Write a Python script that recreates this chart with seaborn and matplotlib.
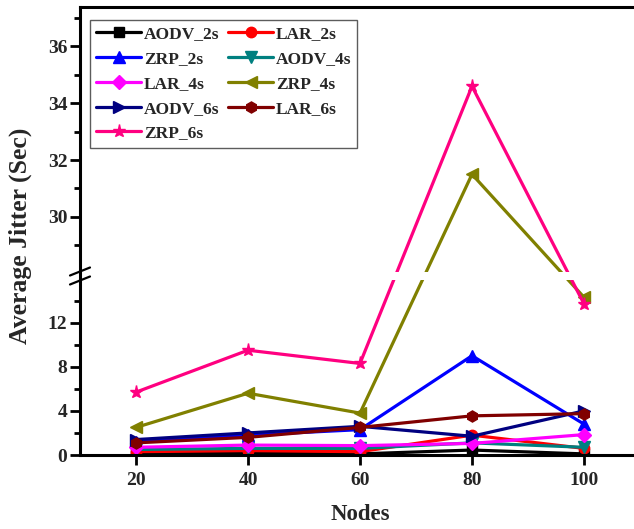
import matplotlib
matplotlib.use("Agg")
import matplotlib.pyplot as plt
from matplotlib.lines import Line2D
import numpy as np
import seaborn as sns
import pandas as pd

nodes = [20, 40, 60, 80, 100]

aodv_2s = [0.1, 0.2, 0.1, 0.45, 0.1]
lar_2s = [0.3, 0.4, 0.3, 1.8, 0.6]
zrp_2s = [1.2, 1.8, 2.3, 9.0, 2.8]
aodv_4s = [0.5, 0.6, 0.6, 1.1, 0.7]
lar_4s = [0.7, 0.9, 0.85, 1.05, 1.85]
zrp_4s = [2.5, 5.6, 3.8, 31.5, 14.3]
aodv_6s = [1.4, 2.0, 2.6, 1.7, 4.0]
lar_6s = [1.1, 1.6, 2.5, 3.55, 3.75]
zrp_6s = [5.7, 9.5, 8.3, 34.6, 13.7]

series_names = ["AODV_2s", "LAR_2s", "ZRP_2s", "AODV_4s", "LAR_4s",
                "ZRP_4s", "AODV_6s", "LAR_6s", "ZRP_6s"]
series_values = [aodv_2s, lar_2s, zrp_2s, aodv_4s, lar_4s,
                 zrp_4s, aodv_6s, lar_6s, zrp_6s]
colors = ["#000000", "#FF0000", "#0000FF", "#008080", "#FF00FF",
          "#808000", "#000080", "#800000", "#FF0080"]
markers = ["s", "o", "^", "v", "D", "<", ">", "h", "*"]
msizes = [7, 7.5, 8.5, 8.5, 7, 8.5, 8.5, 8, 9.5]

y_major = [0, 4, 8, 12, 30, 32, 34, 36]
y_minor = [2, 6, 10, 14, 29, 31, 33, 35, 37]

# broken y axis: 0..15.87 and 28.06..37.38 share one axis with a narrow gap
BRK_LO, BRK_HI = 15.87, 28.06
LO_SCALE, HI_SCALE = 11.03, 28.4
GAP = 8.0
_d = np.array([-100.0, 0.0, BRK_LO, BRK_HI, 100.0])
_p = np.array([-100.0 * LO_SCALE, 0.0, BRK_LO * LO_SCALE, BRK_LO * LO_SCALE + GAP,
               BRK_LO * LO_SCALE + GAP + (100.0 - BRK_HI) * HI_SCALE])

def fwd(v):
    return np.interp(v, _d, _p)

def inv(p):
    return np.interp(p, _p, _d)

sns.set_theme(style="ticks")
plt.rcParams["font.family"] = ["Liberation Serif", "DejaVu Serif"]
plt.rcParams["font.weight"] = "bold"

W, H = 634, 529
fig = plt.figure(figsize=(W / 100, H / 100), dpi=100)

def fx(px):
    return px / W

def fy(py):
    return 1 - py / H

x_left, x_right = 80, 640
ax_top, ax_bot = 7.3, 455
ax = fig.add_axes([fx(x_left), fy(ax_bot), fx(x_right - x_left), (ax_bot - ax_top) / H])
ax.set_yscale("function", functions=(fwd, inv))

for name, vals, c, m, ms in zip(series_names, series_values, colors, markers, msizes):
    df = pd.DataFrame({"Nodes": nodes, "Jitter": vals})
    sns.lineplot(data=df, x="Nodes", y="Jitter", ax=ax, color=c, marker=m,
                 markersize=ms, markeredgecolor=c, markeredgewidth=1,
                 linewidth=2.3, label=name, legend=False)

ax.set_xlim(10, 110)
ax.set_ylim(0, 37.38)
ax.set_xlabel("")
ax.set_ylabel("")
ax.set_facecolor("white")

# white band where the axis is broken
ax.axhspan(BRK_LO, BRK_HI, xmin=0.006, xmax=1, color="white", zorder=3, lw=0)

ax.spines["right"].set_visible(False)
for sp in ("left", "bottom", "top"):
    ax.spines[sp].set_linewidth(2.2)
    ax.spines[sp].set_color("black")

ax.set_xticks(nodes)
ax.set_yticks(y_major)
ax.set_yticks(y_minor, minor=True)
ax.set_yticklabels([str(v) for v in y_major])
ax.tick_params(axis="both", which="major", direction="out", length=7, width=2,
               labelsize=14, color="black", pad=2)
ax.tick_params(axis="y", which="minor", direction="out", length=4, width=2,
               color="black", left=True)
ax.tick_params(axis="x", which="minor", bottom=False)
ax.tick_params(axis="x", pad=5)
ax.tick_params(top=False, right=False)
for lab in ax.get_xticklabels() + ax.get_yticklabels():
    lab.set_fontweight("bold")

# // break marks on the y axis
for yc in (271.5, 280.5):
    fig.add_artist(Line2D([fx(70), fx(90)], [fy(yc + 4), fy(yc - 4)], color="black", lw=1.6))

fig.text(fx(20), fy(236), "Average Jitter (Sec)", rotation=90, ha="center", va="center",
         fontsize=18.5, fontweight="bold")
fig.text(fx(360), fy(514), "Nodes", ha="center", va="center", fontsize=16.5, fontweight="bold")

# legend in row-major order over two columns
lines = ax.get_lines()[:len(series_names)]
order = [0, 2, 4, 6, 8, 1, 3, 5, 7]
leg = ax.legend([lines[i] for i in order], [series_names[i] for i in order],
                ncol=2, loc="upper left", bbox_to_anchor=(fx(90), fy(20)),
                bbox_transform=fig.transFigure, frameon=True, fancybox=False,
                prop={"family": "Liberation Serif", "weight": "bold", "size": 12.5},
                handlelength=2.6, handletextpad=0.15, columnspacing=0.5,
                labelspacing=0.5, borderpad=0.35, borderaxespad=0)
leg.get_frame().set_edgecolor("#333333")
leg.get_frame().set_linewidth(1.0)
leg.set_zorder(5)

fig.savefig("out.png", dpi=100, facecolor="white")
